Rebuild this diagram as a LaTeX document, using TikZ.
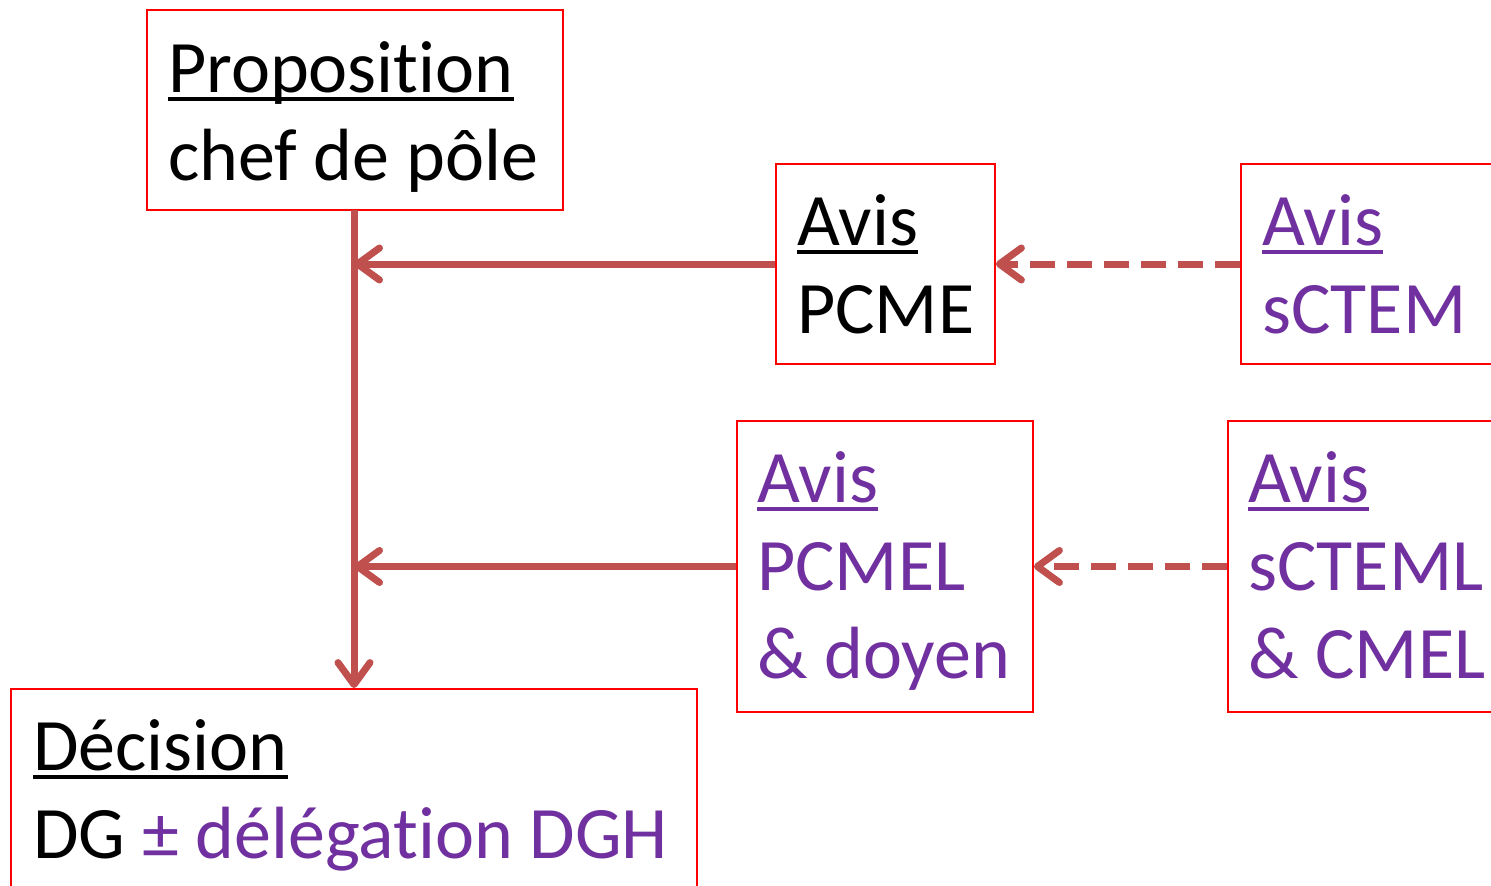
\documentclass[tikz,border=0pt]{standalone}
\usepackage{fontspec}
\setmainfont{Carlito}[Ligatures={NoCommon}]
\usetikzlibrary{arrows.meta}
\definecolor{boxred}{HTML}{FF0000}
\definecolor{arrred}{HTML}{C0504D}
\definecolor{purp}{HTML}{7030A0}
\newcommand\myul[1]{\setbox0\hbox{#1}\rlap{\rule[-9pt]{\wd0}{4pt}}\box0}
\tikzset{
  box/.style={draw=boxred, line width=1.8pt, inner sep=0pt},
  txt/.style={anchor=base west, inner sep=0pt, font=\fontsize{74}{88}\selectfont},
  conn/.style={draw=arrred, line width=7pt, -{Straight Barb[length=22pt,width=32pt,line cap=round,line join=round]}},
  dconn/.style={conn, dash pattern=on 25pt off 12pt},
}
\begin{document}
\begin{tikzpicture}[x=1pt,y=-1pt]
\useasboundingbox (0,0) rectangle (1491,886);
\clip (0,0) rectangle (1491,886);
% boxes
\draw[box] (147,10) rectangle (563,210);
\coordinate (prop) at (354,210);
\node[box, minimum width=219pt, minimum height=200pt] (pcme) at (885.5,264) {};
\node[box, minimum width=300pt, minimum height=200pt] (sctem) at (1391,264) {};
\node[box, minimum width=296pt, minimum height=291pt] (pcmel) at (885,566.5) {};
\node[box, minimum width=300pt, minimum height=291pt] (scteml) at (1378,566.5) {};
\node[box, minimum width=686pt, minimum height=260pt] (dec) at (354,819) {};
% texts
\node[txt] (t1) at (168,92) {\myul{Proposition}};
\node[txt] (t2) at (168,180) {chef de pôle};
\node[txt] (t3) at (797,245) {\myul{Avis}};
\node[txt] (t4) at (797,333) {PCME};
\node[txt, text=purp] (t5) at (1262,245) {\myul{Avis}};
\node[txt, text=purp] (t6) at (1262,333) {sCTEM};
\node[txt, text=purp] (t7) at (757,502) {\myul{Avis}};
\node[txt, text=purp] (t8) at (757,590) {PCMEL};
\node[txt, text=purp] (t9) at (757,678) {\& doyen};
\node[txt, text=purp] (t10) at (1248,502) {\myul{Avis}};
\node[txt, text=purp] (t11) at (1248,590) {sCTEML};
\node[txt, text=purp] (t12) at (1248,678) {\& CMEL};
\node[txt] (t13) at (33,770) {\myul{Décision}};
\node[txt] (t14) at (33,858) {DG \textcolor{purp}{± délégation DGH}};
% connectors
\coordinate (j1) at (prop |- pcme.west);
\coordinate (j2) at (prop |- pcmel.west);
\draw[conn] (prop) -- (dec.north);
\draw[conn] (pcme.west) -- (j1);
\draw[conn] (pcmel.west) -- (j2);
\draw[dconn] (sctem.west) -- (pcme.east);
\draw[dconn] (scteml.west) -- (pcmel.east);
\end{tikzpicture}
\end{document}
